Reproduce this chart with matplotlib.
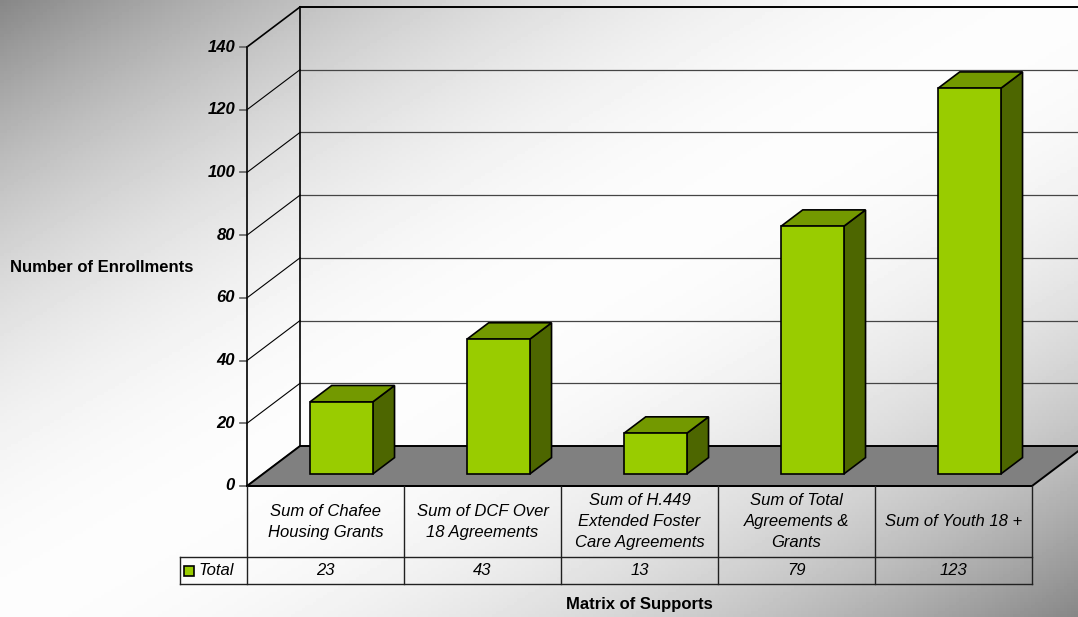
import matplotlib.pyplot as plt
import numpy as np
from matplotlib.patches import Polygon, Rectangle

# data
categories = ["Sum of Chafee\nHousing Grants", "Sum of DCF Over\n18 Agreements",
              "Sum of H.449\nExtended Foster\nCare Agreements",
              "Sum of Total\nAgreements &\nGrants", "Sum of Youth 18 +"]
values = [23, 43, 13, 79, 123]
yticks = [0, 20, 40, 60, 80, 100, 120, 140]
series_name = "Total"

plt.rcParams['font.family'] = ['Liberation Sans', 'DejaVu Sans']

W, H = 1078, 617
fig = plt.figure(figsize=(W / 100, H / 100), dpi=100)

# pixel overlay with gradient background
pix = fig.add_axes([0, 0, 1, 1])
pix.set_xlim(0, W)
pix.set_ylim(H, 0)
pix.axis('off')
xx, yy = np.meshgrid(np.linspace(0, 1, 300), np.linspace(0, 1, 200))
t = np.abs(xx + yy - 1)
grad = 0.99 - 0.46 * t ** 2
pix.imshow(grad, cmap='gray', vmin=0, vmax=1, extent=[0, W, H, 0], aspect='auto', zorder=0)

# data axes for the front plane of the chart
ax = fig.add_axes([247 / W, 1 - 486 / H, (1032 - 247) / W, (486 - 47) / H])
ax.set_xlim(0, len(values))
ax.set_ylim(0, 140)
ax.axis('off')

DX, DY = 53, -40  # depth offset in pixels


def P(x, v, d=0.0):
    px, py = pix.transData.inverted().transform(ax.transData.transform((x, v)))
    return (px + DX * d, py + DY * d)


n = len(values)
# back wall and left wall gridlines
for v in yticks:
    top_line = v == yticks[-1]
    if v != 0:
        pix.plot(*zip(P(0, v, 1), P(n, v, 1)), color='black' if top_line else '#454545',
                 lw=1.4 if top_line else 0.9, zorder=2)
    pix.plot(*zip(P(0, v, 0), P(0, v, 1)), color='black', lw=1.2 if top_line else 0.8, zorder=2)
    # tick mark + label
    x0, y0 = P(0, v, 0)
    pix.plot([x0 - 7, x0], [y0, y0], color='#606060', lw=1.2, zorder=2)
    pix.text(x0 - 12, y0, str(v), ha='right', va='center', fontsize=12,
             fontweight='bold', fontstyle='italic', zorder=3)
pix.plot(*zip(P(0, 0, 0), P(0, yticks[-1], 0)), color='black', lw=1.2, zorder=2)
pix.plot(*zip(P(0, 0, 1), P(0, yticks[-1], 1)), color='black', lw=1.2, zorder=2)

# floor
floor = [P(0, 0, 0), P(n, 0, 0), P(n, 0, 1), P(0, 0, 1)]
pix.add_patch(Polygon(floor, closed=True, facecolor='#808080', edgecolor='black', lw=1.4, zorder=3))

# bars
d0, d1 = 0.3, 0.71
for i, v in enumerate(values):
    x0, x1 = i + 0.3, i + 0.7
    front = [P(x0, 0, d0), P(x1, 0, d0), P(x1, v, d0), P(x0, v, d0)]
    top = [P(x0, v, d0), P(x1, v, d0), P(x1, v, d1), P(x0, v, d1)]
    side = [P(x1, 0, d0), P(x1, 0, d1), P(x1, v, d1), P(x1, v, d0)]
    pix.add_patch(Polygon(side, closed=True, facecolor='#4d6600', edgecolor='black', lw=1.2, zorder=4))
    pix.add_patch(Polygon(top, closed=True, facecolor='#739900', edgecolor='black', lw=1.2, zorder=4))
    pix.add_patch(Polygon(front, closed=True, facecolor='#99cc00', edgecolor='black', lw=1.2, zorder=5))

# data table
yt, ym, yb = 486, 557, 584
xl, xr = P(0, 0)[0], P(n, 0)[0]
pix.plot([xl, xr], [yt, yt], color='black', lw=1.4, zorder=6)
pix.plot([180, xr], [ym, ym], color='#202020', lw=1, zorder=6)
pix.plot([180, xr], [yb, yb], color='#202020', lw=1, zorder=6)
pix.plot([180, 180], [ym, yb], color='#202020', lw=1, zorder=6)
for i in range(n + 1):
    xi = P(i, 0)[0]
    pix.plot([xi, xi], [yt, yb], color='#202020', lw=1, zorder=6)
for i, (c, v) in enumerate(zip(categories, values)):
    xc = P(i + 0.5, 0)[0]
    pix.text(xc, (yt + ym) / 2, c, ha='center', va='center', multialignment='center',
             fontsize=12, fontstyle='italic', linespacing=1.5, zorder=7)
    pix.text(xc, (ym + yb) / 2, str(v), ha='center', va='center',
             fontsize=12, fontstyle='italic', zorder=7)
pix.add_patch(Rectangle((184, 566), 10, 10, facecolor='#99cc00', edgecolor='black', lw=1.2, zorder=7))
pix.text(199, (ym + yb) / 2, series_name, ha='left', va='center', fontsize=12,
         fontstyle='italic', zorder=7)

# axis titles
pix.text(102, 267, "Number of Enrollments", ha='center', va='center', fontsize=12, fontweight='bold')
pix.text((xl + xr) / 2, 604, "Matrix of Supports", ha='center', va='center', fontsize=12, fontweight='bold')

fig.savefig('out.png', dpi=100)
